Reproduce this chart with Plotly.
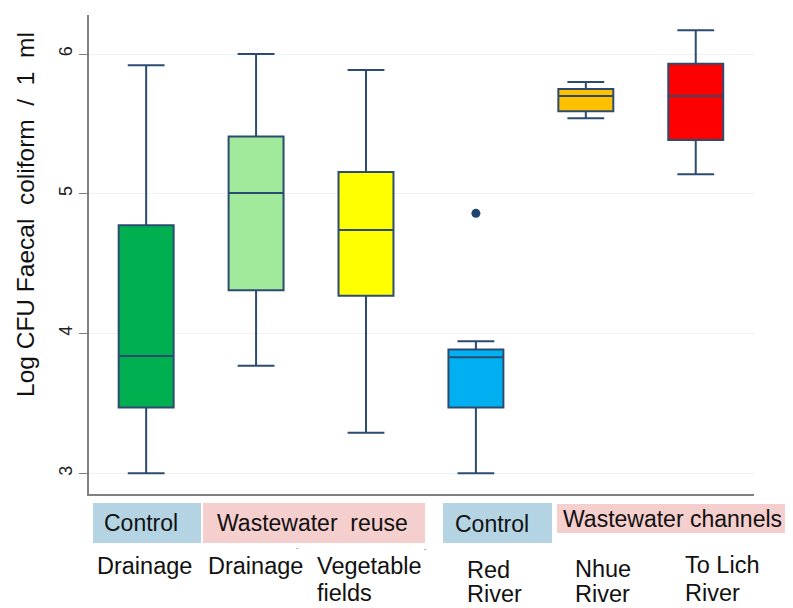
import plotly.graph_objects as go

# ---------------- data ----------------
categories = ["Control drainage", "Reuse drainage", "Vegetable fields",
              "Red River", "Nhue River", "To Lich River"]
lower_whisker = [3.00, 3.77, 3.29, 3.00, 5.54, 5.14]
q1_values = [3.47, 4.31, 4.27, 3.47, 5.59, 5.385]
median_values = [3.84, 5.005, 4.74, 3.83, 5.70, 5.70]
q3_values = [4.775, 5.41, 5.156, 3.886, 5.75, 5.93]
upper_whisker = [5.92, 6.00, 5.885, 3.944, 5.80, 6.17]
box_colors = ["#00B050", "#A1EA9C", "#FFFF00", "#00B0F0", "#FFC000", "#FF0000"]
outlier_category = [3]
outlier_values = [4.86]
y_ticks = [3, 4, 5, 6]
y_title = "Log CFU Faecal  coliform  /  1  ml"

group_labels = ["Control", "Wastewater  reuse", "Control", "Wastewater channels"]
category_lines = [["Drainage"], ["Drainage"], ["Vegetable", "fields"],
                  ["Red", "River"], ["Nhue", "River"], ["To Lich", "River"]]

# ---------------- layout helpers (page pixel coordinates) ----------------
PAGE_W, PAGE_H = 793, 608
OFF = 8                      # default body margin of the html page
W, H = PAGE_W - OFF, PAGE_H - OFF
L, R, T, B = 89, 754, 15, 494
FONT = "Liberation Sans, Arial, sans-serif"
LINE = "#2B4C70"


def px(x):
    return (x - L) / (R - L)


def py(y):
    return (B - y) / (B - T)


fig = go.Figure()
for i, cat in enumerate(categories):
    fig.add_trace(go.Box(
        x=[i], q1=[q1_values[i]], median=[median_values[i]], q3=[q3_values[i]],
        lowerfence=[lower_whisker[i]], upperfence=[upper_whisker[i]],
        name=cat, width=0.5, whiskerwidth=0.67, boxpoints=False,
        fillcolor=box_colors[i], line=dict(color=LINE, width=2),
        showlegend=False, hoverinfo="skip"))

fig.add_trace(go.Scatter(x=outlier_category, y=outlier_values, mode="markers",
                         marker=dict(color="#1F4470", size=9),
                         showlegend=False, hoverinfo="skip"))

shapes = []
annotations = []
group_boxes = [(93, 201, 503, 543, "#B4D4E4"), (203, 425, 503, 543, "#F5CECE"),
               (443, 552, 503, 543, "#B4D4E4"), (557, 793, 504, 533, "#F5CECE")]
group_text_pos = [(141, 523, "center"), (312, 523, "center"),
                  (492, 524, "center"), (561, 519, "left")]
for (x0, x1, y0, y1, col), (tx, ty, al), lab in zip(group_boxes, group_text_pos, group_labels):
    shapes.append(dict(type="rect", xref="paper", yref="paper",
                       x0=px(x0), x1=px(x1), y0=py(y1), y1=py(y0),
                       fillcolor=col, line=dict(width=0), layer="below"))
    annotations.append(dict(text=lab, xref="paper", yref="paper", x=px(tx), y=py(ty),
                            xanchor=al, yanchor="middle", showarrow=False,
                            font=dict(family=FONT, size=23, color="#111111")))

label_pos = [(95, [566]), (206, [566]), (315, [566, 593]),
             (465, [570, 594]), (573, [569, 594]), (683, [565, 593])]
for (lx, ys), lines in zip(label_pos, category_lines):
    for ly, txt in zip(ys, lines):
        annotations.append(dict(text=txt, xref="paper", yref="paper", x=px(lx), y=py(ly),
                                xanchor="left", yanchor="middle", showarrow=False,
                                font=dict(family=FONT, size=23.5, color="#111111")))

for dx, dy in [(297, 547), (425, 548)]:
    annotations.append(dict(text="-", xref="paper", yref="paper", x=px(dx), y=py(dy),
                            xanchor="center", yanchor="middle", showarrow=False,
                            font=dict(family=FONT, size=8, color="#666666")))

annotations.append(dict(text=y_title, xref="paper", yref="paper", x=px(25), y=py(215),
                        xanchor="center", yanchor="middle", textangle=-90, showarrow=False,
                        font=dict(family=FONT, size=24.5, color="#111111")))

fig.update_layout(
    width=W, height=H,
    margin=dict(l=L - OFF, r=PAGE_W - R, t=T - OFF, b=PAGE_H - B, autoexpand=False),
    paper_bgcolor="white", plot_bgcolor="white",
    shapes=shapes, annotations=annotations,
    font=dict(family=FONT),
    xaxis=dict(range=[-0.52, 5.53], showticklabels=False, ticks="", showgrid=False,
               zeroline=False, showline=True, linecolor="#808080", linewidth=1.5),
    yaxis=dict(range=[2.852, 6.279], tickvals=y_ticks, tickangle=-90,
               ticks="outside", ticklen=8, tickcolor="#808080", tickwidth=1,
               tickfont=dict(family=FONT, size=18, color="#222222"),
               showgrid=True, gridcolor="#EDF2F2", gridwidth=1, zeroline=False,
               showline=True, linecolor="#808080", linewidth=1.5),
)

fig.write_html("out.html")
